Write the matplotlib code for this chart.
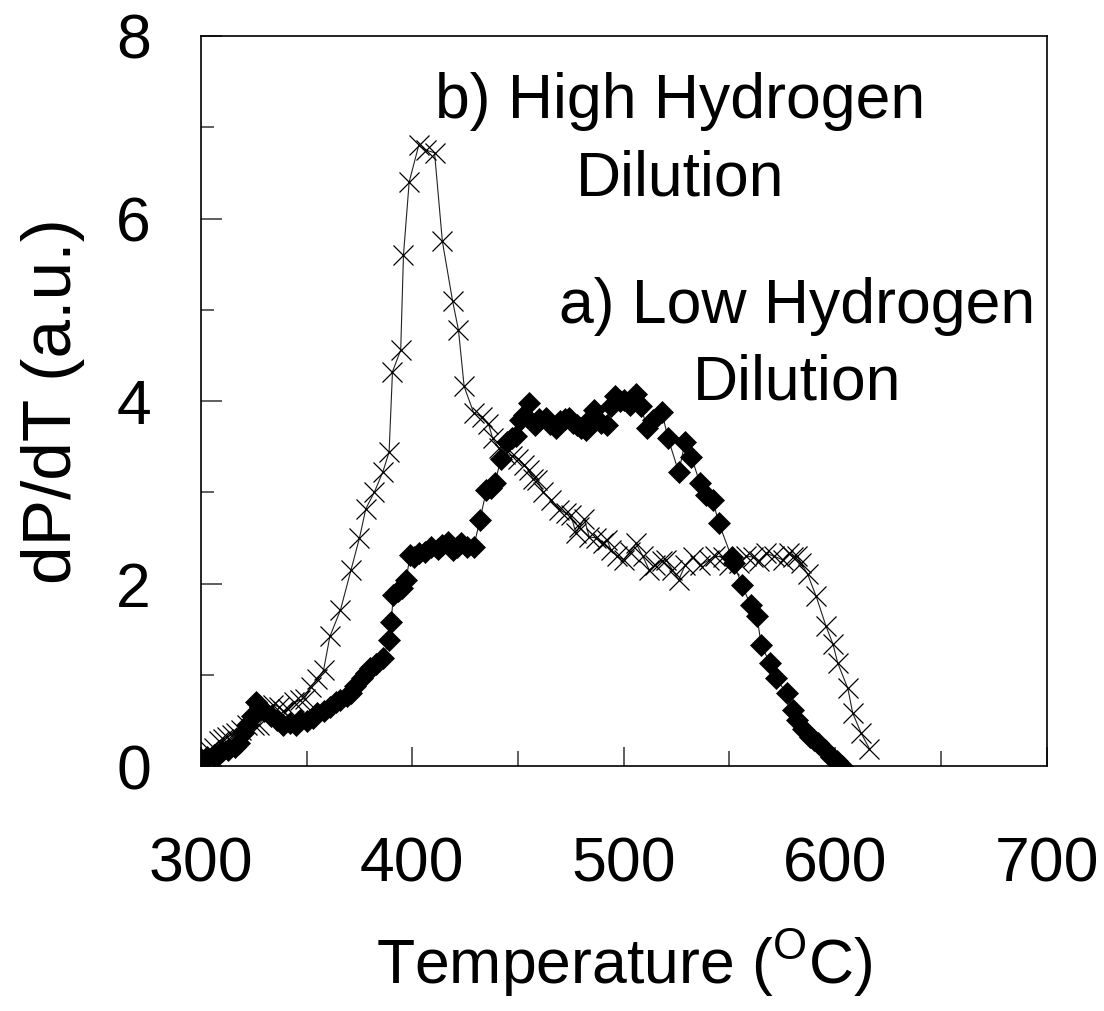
import matplotlib
matplotlib.use("Agg")
import matplotlib.pyplot as plt
from matplotlib.ticker import MultipleLocator

plt.rcParams['font.family'] = ['Liberation Sans', 'DejaVu Sans']
plt.rcParams['mathtext.fontset'] = 'custom'
plt.rcParams['mathtext.rm'] = 'Liberation Sans'
plt.rcParams['mathtext.it'] = 'Liberation Sans'

# a) Low Hydrogen Dilution (filled diamonds)
low_T = [300, 303, 306, 308, 310, 313, 316, 318, 320, 322, 324, 326, 328, 330, 333, 336, 339,
         342, 345, 347, 350, 353, 355, 358, 361, 364, 366, 369, 371, 373, 376, 378, 380, 383,
         386, 389, 390, 391, 393, 395, 397, 399, 401, 403, 406, 409, 412, 414, 417, 419, 421,
         423, 426, 429, 432, 435, 437, 439, 442, 445, 447, 449, 451, 453, 455, 458, 460, 463,
         465, 468, 470, 472, 474, 476, 478, 480, 482, 484, 486, 489, 492, 494, 496, 498, 500,
         503, 506, 508, 511, 514, 518, 521, 526, 529, 532, 536, 539, 542, 545, 551, 552, 556,
         560, 563, 565, 569, 572, 577, 580, 582, 585, 588, 590, 592, 595, 598, 601, 603]
low_y = [0.08, 0.10, 0.12, 0.12, 0.16, 0.18, 0.21, 0.25, 0.36, 0.45, 0.55, 0.70, 0.65, 0.60,
         0.55, 0.50, 0.45, 0.47, 0.45, 0.50, 0.49, 0.53, 0.58, 0.60, 0.65, 0.70, 0.72, 0.77,
         0.80, 0.88, 0.96, 1.02, 1.07, 1.12, 1.18, 1.38, 1.58, 1.87, 1.92, 1.95, 2.04, 2.31,
         2.29, 2.33, 2.35, 2.40, 2.38, 2.42, 2.45, 2.37, 2.40, 2.44, 2.40, 2.40, 2.70, 3.02,
         3.05, 3.10, 3.37, 3.55, 3.59, 3.62, 3.79, 3.85, 3.98, 3.74, 3.80, 3.81, 3.75, 3.70,
         3.78, 3.80, 3.81, 3.76, 3.74, 3.70, 3.68, 3.80, 3.90, 3.76, 3.74, 3.95, 4.05, 4.00,
         4.01, 3.96, 4.08, 3.95, 3.70, 3.79, 3.88, 3.59, 3.22, 3.55, 3.39, 3.10, 2.97, 2.92,
         2.66, 2.29, 2.22, 1.98, 1.76, 1.64, 1.33, 1.13, 0.96, 0.80, 0.61, 0.50, 0.41, 0.32,
         0.28, 0.25, 0.18, 0.10, 0.05, 0.00]

# b) High Hydrogen Dilution (crosses)
high_T = [300, 302, 304, 306, 308.5, 310.5, 312.5, 314.5, 316.5, 319, 322, 325, 327.5, 330,
          332, 334, 337, 339, 341, 344, 347, 349, 352, 355, 358, 361, 366, 371, 375, 378, 382,
          386, 389, 390.6, 394.5, 395.8, 398.5, 403, 406.5, 410.5, 414.2, 419, 421.8, 424.5,
          429, 433, 436, 438, 441, 444, 447, 450, 453, 455, 457, 459, 462, 465.5, 469.5,
          472.6, 475, 477.4, 479, 481.3, 483.7, 487, 490, 492, 494, 497, 500, 503, 505.8, 509,
          512, 515, 518, 520, 523, 526, 529, 532.6, 536, 540.5, 543, 546.8, 550, 554.7, 558,
          561, 564, 567.3, 571, 575.2, 578, 580, 582, 584, 587, 591, 595.7, 598.9, 601.2, 606,
          608.3, 612.3, 616.2]
high_y = [0.05, 0.10, 0.18, 0.20, 0.27, 0.30, 0.32, 0.34, 0.36, 0.40, 0.45, 0.45, 0.45, 0.55,
          0.62, 0.67, 0.65, 0.60, 0.62, 0.70, 0.72, 0.74, 0.87, 0.95, 1.05, 1.42, 1.71, 2.15,
          2.50, 2.82, 3.00, 3.22, 3.44, 4.32, 4.56, 5.60, 6.40, 6.80, 6.75, 6.72, 5.75, 5.10,
          4.78, 4.16, 3.87, 3.83, 3.75, 3.59, 3.48, 3.42, 3.40, 3.37, 3.30, 3.24, 3.15, 3.13,
          3.00, 2.92, 2.81, 2.77, 2.75, 2.55, 2.62, 2.71, 2.51, 2.50, 2.44, 2.48, 2.37, 2.30,
          2.26, 2.35, 2.44, 2.30, 2.15, 2.20, 2.25, 2.26, 2.15, 2.04, 2.20, 2.29, 2.20, 2.26,
          2.30, 2.29, 2.20, 2.22, 2.30, 2.29, 2.25, 2.33, 2.30, 2.26, 2.33, 2.29, 2.30, 2.22,
          2.10, 1.86, 1.53, 1.34, 1.13, 0.85, 0.58, 0.36, 0.19]

x_ticks = [300, 400, 500, 600, 700]
y_ticks = [0, 2, 4, 6, 8]
label_b = "b) High Hydrogen\nDilution"
label_a = "a) Low Hydrogen\nDilution"

fig = plt.figure(figsize=(11.04, 10.11), dpi=100)
ax = fig.add_axes([0.182, 0.2423, 0.766, 0.7221])

ax.plot(high_T, high_y, color='#222222', lw=0.8, marker='x', ms=15, mew=0.9,
        mec='black', zorder=2)
ax.plot(low_T, low_y, color='#222222', lw=0.8, marker='D', ms=11, mfc='black',
        mec='black', mew=0.5, zorder=3)

ax.set_xlim(300, 700)
ax.set_ylim(0, 8)
ax.set_xticks(x_ticks)
ax.set_yticks(y_ticks)
ax.xaxis.set_minor_locator(MultipleLocator(50))
ax.yaxis.set_minor_locator(MultipleLocator(1))
ax.tick_params(which='both', direction='in', top=False, right=False, width=1.1,
               color='#333333')
ax.tick_params(axis='x', which='major', length=14, pad=50, labelsize=45)
ax.tick_params(axis='x', which='minor', length=10.5)
ax.tick_params(axis='y', which='major', length=15, pad=36, labelsize=45)
ax.tick_params(axis='y', which='minor', length=9.5)
for s in ax.spines.values():
    s.set_linewidth(1.2)
    s.set_color('black')

ax.set_xlabel(r'Temperature ($^{\mathrm{O}}$C)', fontsize=45, labelpad=24)
ax.set_ylabel('dP/dT (a.u.)', fontsize=50, labelpad=22)

ax.text(0.566, 0.857, label_b, transform=ax.transAxes, ha='center', va='center',
        fontsize=45, linespacing=1.4)
ax.text(0.705, 0.577, label_a, transform=ax.transAxes, ha='center', va='center',
        fontsize=45, linespacing=1.4)

fig.savefig('out.png', dpi=100)
